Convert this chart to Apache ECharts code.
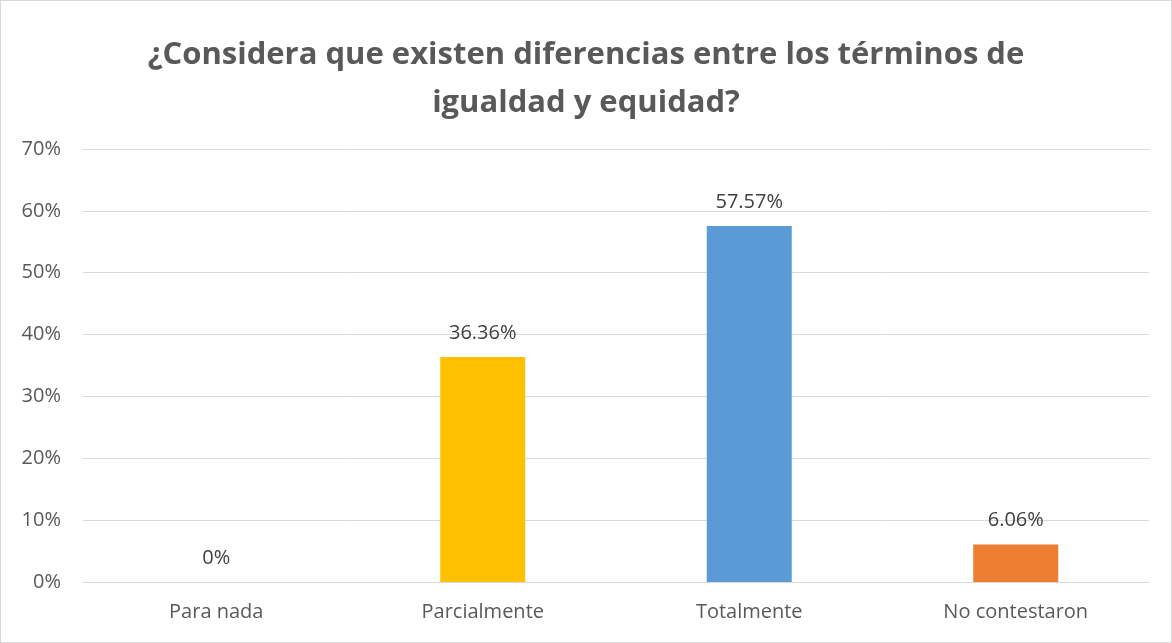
<!DOCTYPE html>
<html>
<head>
<meta charset="utf-8">
<script src="https://cdn.jsdelivr.net/npm/echarts@6/dist/echarts.min.js"></script>
<style>
  html, body { margin: 0; padding: 0; background: #fff; }
  #chart { width: 1170px; height: 641px; border: 1px solid #d9d9d9; }
</style>
</head>
<body>
<div id="chart"></div>
<script>
// datos del gráfico
var categories = ['Para nada', 'Parcialmente', 'Totalmente', 'No contestaron'];
var values = [0, 36.36, 57.57, 6.06];
var barColors = ['#FFC000', '#FFC000', '#5B9BD5', '#ED7D31'];
var titleText = '¿Considera que existen diferencias entre los términos de\nigualdad y equidad?';

var chart = echarts.init(document.getElementById('chart'));

var option = {
    animation: false,
    textStyle: { fontFamily: 'Open Sans' },
    title: {
        text: titleText,
        left: 'center',
        top: 25,
        textStyle: {
            fontFamily: 'Open Sans',
            fontSize: 31,
            fontWeight: 'bold',
            color: '#595959',
            lineHeight: 48
        }
    },
    grid: {
        left: 82,
        right: 22,
        top: 148,
        bottom: 60
    },
    xAxis: {
        type: 'category',
        data: categories,
        axisLine: { show: true, lineStyle: { color: '#d9d9d9', width: 1 } },
        axisTick: { show: false },
        axisLabel: { color: '#595959', fontSize: 20, margin: 20 }
    },
    yAxis: {
        type: 'value',
        min: 0,
        max: 70,
        interval: 10,
        axisLine: { show: false },
        axisTick: { show: false },
        splitLine: { lineStyle: { color: '#d9d9d9', width: 1 } },
        axisLabel: {
            color: '#595959',
            fontSize: 20,
            margin: 22,
            formatter: '{value}%'
        }
    },
    series: [{
        type: 'bar',
        barWidth: 85,
        data: values.map(function (v, i) {
            return { value: v, itemStyle: { color: barColors[i] } };
        }),
        label: {
            show: true,
            position: 'top',
            distance: 14,
            color: '#404040',
            fontSize: 20,
            formatter: function (p) {
                return p.value + '%';
            }
        }
    }]
};

chart.setOption(option);
</script>
</body>
</html>
